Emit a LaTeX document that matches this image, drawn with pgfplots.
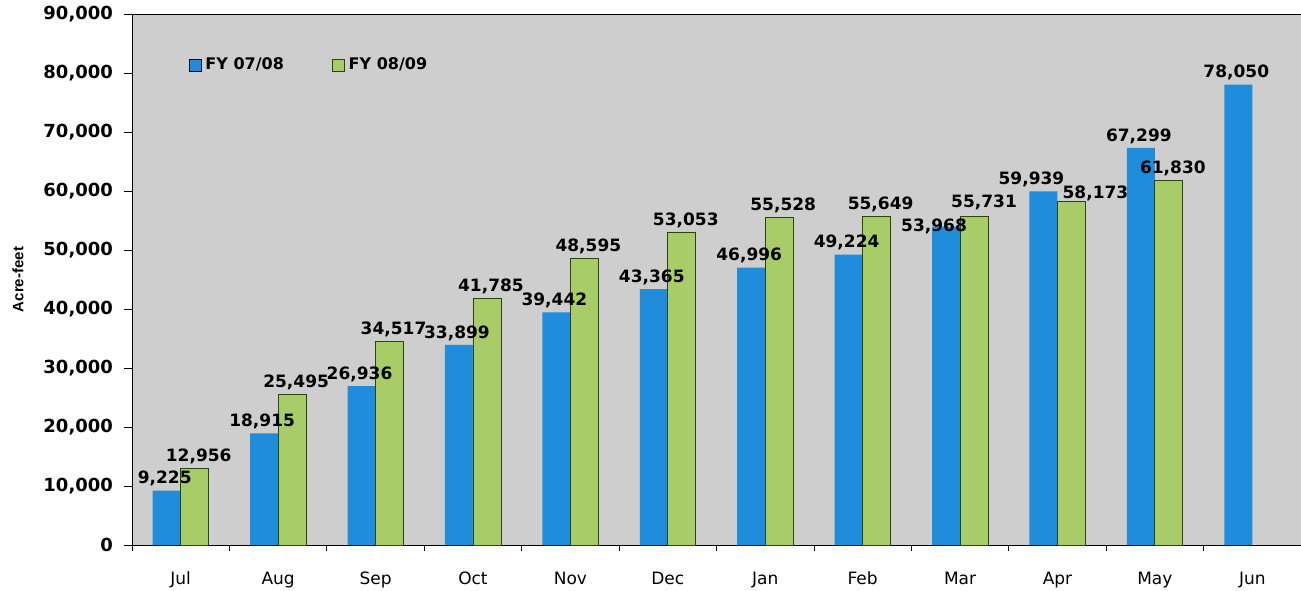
\documentclass[border=0pt]{standalone}
\usepackage{fontspec}
\setmainfont{DejaVu Sans}
\newfontfamily\narrowfont{Liberation Sans}
\usepackage{pgfplots}
\pgfplotsset{compat=1.18}

\definecolor{bgray}{RGB}{206,206,206}
\definecolor{fyblue}{RGB}{32,140,220}
\definecolor{fygreen}{RGB}{168,204,104}
\definecolor{gedge}{RGB}{40,70,20}

% x value dx dy (label offsets in pt)
\pgfplotstableread{
x  y      dx  dy
0  9225   -1  0
1  18915  -1  0
2  26936  -1  0
3  33899  -1  0
4  39442  -1  0
5  43365  -1  0
6  46996  -1  0
7  49224  -1  0
8  53968  -6  -6
9  59939  -6  0
10 67299  -1  0
11 78050  -1  0
}\fyone
\pgfplotstableread{
x  y      dx  dy
0  12956  2   0
1  25495  2   0
2  34517  2   0
3  41785  2   0
4  48595  2   0
5  53053  2   0
6  55528  2   0
7  55649  2   0
8  55731  5   1
9  58173  12  -2
10 61830  2   0
}\fytwo

\begin{document}
\begin{tikzpicture}
\begin{axis}[
    name=ax,
    scale only axis,
    width=584.5pt, height=265.5pt,
    ybar=0pt, bar width=14pt,
    xmin=-0.5, xmax=11.5,
    ymin=0, ymax=90000,
    xtick={0,...,11},
    xticklabels={Jul,Aug,Sep,Oct,Nov,Dec,Jan,Feb,Mar,Apr,May,Jun},
    minor xtick={-0.5,0.5,...,11.5},
    major x tick style={draw=none},
    ytick={0,10000,...,90000},
    scaled y ticks=false,
    /pgf/number format/.cd, 1000 sep={,}, assume math mode=true, /pgfplots/.cd,
    axis lines*=left,
    tick align=outside,
    major tick length=4pt, minor tick length=3pt,
    tick style={black, thin},
    axis line style={black, thin},
    axis background/.style={fill=bgray},
    yticklabel style={font=\fontsize{9}{10}\selectfont\bfseries, xshift=-2pt},
    xticklabel style={font=\fontsize{8.5}{10}\selectfont, yshift=-6pt},
    ylabel={Acre-feet},
    every axis y label/.style={at={([xshift=-57pt]axis description cs:0,0.5)},
        rotate=90, anchor=center,
        font=\narrowfont\fontsize{7.5}{9}\selectfont\bfseries},
    nodes near coords,
    visualization depends on={\thisrow{dx} \as \dx},
    visualization depends on={\thisrow{dy} \as \dy},
    every node near coord/.append style={font=\fontsize{8.5}{10}\selectfont\bfseries,
        black, inner sep=2pt, xshift=\dx pt, yshift=\dy pt},
    legend style={at={(0.043,0.904)}, anchor=west, draw=none, fill=none,
        legend columns=2, font=\fontsize{8}{9}\selectfont\bfseries,
        /tikz/every even column/.append style={column sep=22pt}},
    legend image code/.code={\draw[#1] (0pt,-3pt) rectangle (6pt,3pt);},
]
\addplot[draw=none, fill=fyblue] table[x=x, y=y] {\fyone};
\addplot[draw=gedge, thin, fill=fygreen] table[x=x, y=y] {\fytwo};
\legend{FY 07/08, FY 08/09}
\draw[black, line width=1pt] ([xshift=-4pt]rel axis cs:0,1) -- (rel axis cs:1,1);
\end{axis}
\pgfresetboundingbox
\path ([xshift=-66pt,yshift=-22.5pt]ax.south west) rectangle ([yshift=7pt]ax.north east);
\end{tikzpicture}
\end{document}
